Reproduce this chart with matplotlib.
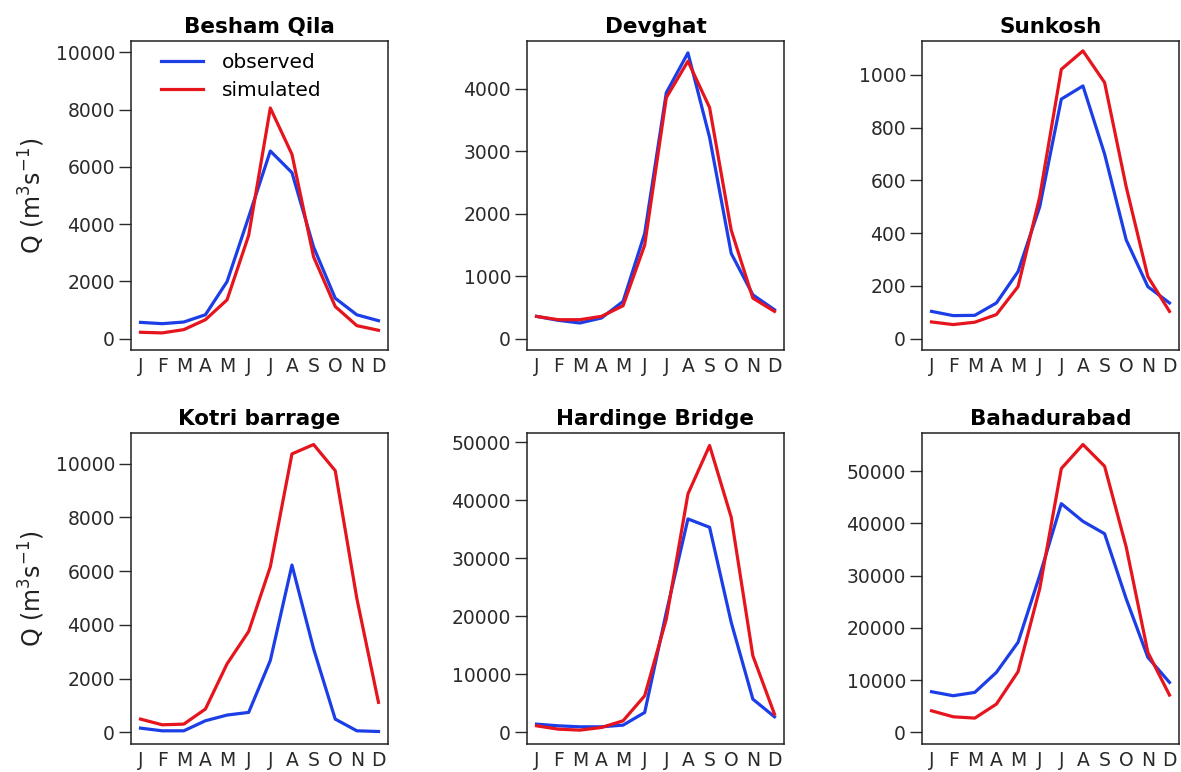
import numpy as np
import matplotlib.pyplot as plt

plt.rcParams['font.family'] = ['DejaVu Sans']

MONTHS = ['J', 'F', 'M', 'A', 'M', 'J', 'J', 'A', 'S', 'O', 'N', 'D']
STATIONS = ['Besham Qila', 'Devghat', 'Sunkosh',
            'Kotri barrage', 'Hardinge Bridge', 'Bahadurabad']

# Mean monthly discharge (m3/s)
besham_obs = [566, 520, 578, 832, 1990, 4250, 6555, 5800, 3200, 1410, 830, 624]
besham_sim = [220, 197, 312, 659, 1353, 3607, 8058, 6439, 2856, 1121, 451, 289]

devghat_obs = [355, 292, 249, 329, 594, 1682, 3936, 4573, 3220, 1363, 700, 461]
devghat_sim = [355, 302, 302, 355, 525, 1496, 3857, 4440, 3698, 1735, 647, 435]

sunkosh_obs = [103, 87, 88, 135, 254, 499, 908, 958, 700, 374, 197, 135]
sunkosh_sim = [63, 53, 62, 91, 197, 537, 1021, 1091, 971, 575, 235, 103]

kotri_obs = [162, 62, 62, 436, 648, 747, 2677, 6227, 3113, 498, 62, 37]
kotri_sim = [498, 286, 311, 872, 2553, 3761, 6164, 10361, 10710, 9738, 4981, 1121]

hardinge_obs = [1437, 1149, 977, 977, 1264, 3448, 20690, 36782, 35345, 18966, 5747, 2701]
hardinge_sim = [1149, 575, 402, 862, 2011, 6322, 19540, 41092, 49425, 37069, 13218, 3161]

bahadur_obs = [7800, 7033, 7673, 11509, 17263, 30051, 43798, 40409, 38043, 25575, 14386, 9591]
bahadur_sim = [4156, 3005, 2749, 5435, 11637, 27494, 50512, 55115, 50959, 35486, 15345, 7161]

OBSERVED = [besham_obs, devghat_obs, sunkosh_obs, kotri_obs, hardinge_obs, bahadur_obs]
SIMULATED = [besham_sim, devghat_sim, sunkosh_sim, kotri_sim, hardinge_sim, bahadur_sim]
Y_TOP = [10000, 4580, 1085, 10710, 49600, 55115]   # upper ylim before padding
Y_TICKS = [np.arange(0, 10001, 2000), np.arange(0, 4001, 1000),
           np.arange(0, 1001, 200), np.arange(0, 10001, 2000),
           np.arange(0, 50001, 10000), np.arange(0, 50001, 10000)]

BLUE = '#1c3ee6'
RED = '#e5141d'

W, H = 1181, 772
fig = plt.figure(figsize=(W / 100, H / 100), dpi=100)

# axes boxes in pixels: (left, right) and (top, bottom)
col_px = [(131, 388), (527, 784), (922, 1179)]
row_px = [(41, 350), (433, 744)]

months = np.arange(1, 13)
for k in range(6):
    r, c = divmod(k, 3)
    x0, x1 = col_px[c]
    y0, y1 = row_px[r]
    ax = fig.add_axes([x0 / W, 1 - y1 / H, (x1 - x0) / W, (y1 - y0) / H])
    ax.plot(months, OBSERVED[k], color=BLUE, lw=2.3, label='observed')
    ax.plot(months, SIMULATED[k], color=RED, lw=2.3, label='simulated')
    pad = 0.04 * Y_TOP[k]
    ax.set_ylim(-pad, Y_TOP[k] + pad)
    ax.set_xlim(1 - 0.44, 12 + 0.44)
    ax.set_yticks(Y_TICKS[k])
    ax.set_xticks(months)
    ax.set_xticklabels(MONTHS)
    ax.tick_params(axis='y', length=8.5, width=1, labelsize=13.5,
                   colors='#2a2a2a', pad=3)
    ax.tick_params(axis='x', length=0, labelsize=13.5, colors='#2a2a2a', pad=5)
    for s in ax.spines.values():
        s.set_linewidth(1.1)
        s.set_color('#222222')
    ax.set_title(STATIONS[k], fontsize=15.5, fontweight='bold', pad=6)
    if c == 0:
        ax.set_ylabel('Q (m$^3$s$^{-1}$)', fontsize=17, labelpad=6, color='#222222')
    if k == 0:
        ax.legend(loc='upper left', frameon=False, fontsize=14.5,
                  handlelength=2.1, handletextpad=0.9, borderaxespad=0.2,
                  labelspacing=0.45, bbox_to_anchor=(0.07, 1.0))

fig.savefig('out.png', dpi=100)
